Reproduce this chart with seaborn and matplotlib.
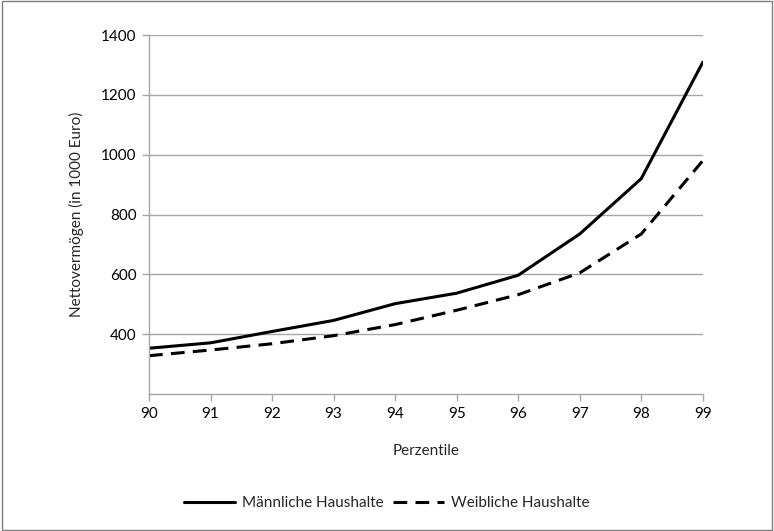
import pandas as pd
import matplotlib
matplotlib.use("Agg")
import matplotlib.pyplot as plt
import seaborn as sns

# Daten
perzentile = [90, 91, 92, 93, 94, 95, 96, 97, 98, 99]
maennlich = [353, 371, 409, 446, 502, 537, 597, 735, 920, 1309]
weiblich = [328, 347, 368, 395, 432, 480, 532, 605, 735, 980]
gruppen = ["Männliche Haushalte", "Weibliche Haushalte"]

df = pd.DataFrame({
    "Perzentile": perzentile * 2,
    "Wert": maennlich + weiblich,
    "Gruppe": [gruppen[0]] * len(perzentile) + [gruppen[1]] * len(perzentile),
})

sns.set_theme(style="white")
plt.rcParams["font.family"] = ["Lato", "DejaVu Sans"]

fig = plt.figure(figsize=(7.74, 5.31), dpi=100)
ax = fig.add_axes([0.1925, 0.258, 0.7155, 0.676])

sns.lineplot(data=df, x="Perzentile", y="Wert", style="Gruppe",
             dashes={gruppen[0]: "", gruppen[1]: (4.5, 2.7)},
             color="black", linewidth=2.2, ax=ax, legend=False)

ax.set_xlim(90, 99)
ax.set_ylim(200, 1400)
ax.set_xticks(perzentile)
ax.set_yticks([400, 600, 800, 1000, 1200, 1400])
ax.yaxis.grid(True, color="#a6a6a6", linewidth=1)
ax.set_axisbelow(True)
for s in ["top", "right"]:
    ax.spines[s].set_visible(False)
for s in ["left", "bottom"]:
    ax.spines[s].set_color("#a6a6a6")
    ax.spines[s].set_linewidth(1)
ax.tick_params(axis="both", direction="out", length=5, width=1, color="#a6a6a6",
               labelsize=11, labelcolor="black", pad=4)
ax.tick_params(axis="y", left=True)
ax.tick_params(axis="x", bottom=True)

ax.set_xlabel("Perzentile", fontsize=11, labelpad=17)
ax.set_ylabel("Nettovermögen (in 1000 Euro)", fontsize=11, labelpad=12)

handles = [
    plt.Line2D([], [], color="black", linewidth=2.2),
    plt.Line2D([], [], color="black", linewidth=2.2, dashes=(4.5, 2.7)),
]
fig.legend(handles, gruppen, loc="center", bbox_to_anchor=(0.5, 0.052), ncol=2,
           frameon=False, fontsize=11, handlelength=3.3, columnspacing=0.6,
           handletextpad=0.5)

fig.patches.append(plt.Rectangle((0.002, 0.002), 0.996, 0.996, transform=fig.transFigure,
                                 fill=False, edgecolor="#7f7f7f", linewidth=1))

fig.savefig("out.png", dpi=100)
